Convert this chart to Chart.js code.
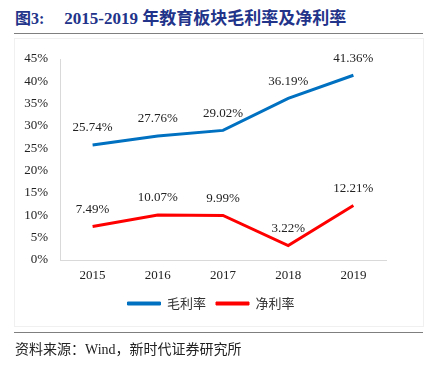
<!DOCTYPE html>
<html>
<head>
<meta charset="utf-8">
<script src="https://cdn.jsdelivr.net/npm/chart.js@4"></script>
<style>
    body { margin: 0; background: #fff; }
    #wrap { position: relative; width: 428px; height: 370px; overflow: hidden; }
    #chart { position: absolute; left: 0; top: 0; }
    .title {
        position: absolute; left: 15px; top: 4px; white-space: nowrap;
        font: bold 16px "Liberation Serif", "Noto Sans CJK SC", serif;
        color: #22338a;
    }
    .title span { margin-left: 20px; font-size: 17px; }
    .rule { position: absolute; left: 14px; width: 409px; height: 1px; background: #7f7f7f; }
    .frame { position: absolute; left: 14px; top: 38px; width: 408px; height: 287px; border: 1px solid #f0f0f0; }
    .source {
        position: absolute; left: 15px; top: 338px; white-space: nowrap;
        font: 14px "Liberation Serif", "Noto Sans CJK SC", serif;
        color: #222;
    }
</style>
</head>
<body>
<div id="wrap">
    <div class="title">图3:<span>2015-2019 年教育板块毛利率及净利率</span></div>
    <div class="rule" style="top:33px"></div>
    <div class="frame"></div>
    <canvas id="chart" width="428" height="370"></canvas>
    <div class="rule" style="top:332px"></div>
    <div class="source">资料来源：Wind，新时代证券研究所</div>
</div>
<script>
/* global Chart */
const years = ["2015", "2016", "2017", "2018", "2019"];
const grossMargin = [25.74, 27.76, 29.02, 36.19, 41.36];
const netMargin = [7.49, 10.07, 9.99, 3.22, 12.21];
const yTicks = [0, 5, 10, 15, 20, 25, 30, 35, 40, 45];

const serif = "'Liberation Serif', 'Times New Roman', serif";

// value labels above each point
const pointLabels = {
    id: "pointLabels",
    afterDatasetsDraw(chart)
    {
        const ctx = chart.ctx;
        ctx.save();
        ctx.font = "13px " + serif;
        ctx.fillStyle = "#222";
        ctx.textAlign = "center";
        ctx.textBaseline = "middle";
        chart.data.datasets.forEach((ds, i) => {
            chart.getDatasetMeta(i).data.forEach((pt, j) => {
                ctx.fillText(ds.data[j].toFixed(2) + "%", pt.x, pt.y - 17);
            });
        });
        ctx.restore();
    }
};

// legend sits centred on the whole frame, not just the plot
const legendShift = {
    id: "legendShift",
    afterLayout(chart)
    {
        chart.legend.left += 18;
        chart.legend.right += 18;
    }
};

new Chart(document.getElementById("chart"), {
    type: "line",
    data: {
        labels: years,
        datasets: [
            {
                label: "毛利率",
                data: grossMargin,
                borderColor: "#0070c0",
                backgroundColor: "#0070c0",
                borderWidth: 3,
                pointRadius: 0,
                tension: 0
            },
            {
                label: "净利率",
                data: netMargin,
                borderColor: "#ff0000",
                backgroundColor: "#ff0000",
                borderWidth: 3,
                pointRadius: 0,
                tension: 0
            }
        ]
    },
    options: {
        responsive: false,
        animation: false,
        layout: { padding: { left: 0, right: 42, top: 59, bottom: 50 } },
        plugins: {
            tooltip: { enabled: false },
            legend: {
                position: "bottom",
                labels: {
                    boxWidth: 33,
                    boxHeight: 3,
                    padding: 10,
                    color: "#333",
                    font: { size: 13, family: "'Noto Sans CJK SC', sans-serif" },
                    generateLabels: chart =>
                        Chart.defaults.plugins.legend.labels.generateLabels(chart).map(l => ({
                            ...l, lineWidth: 1, strokeStyle: l.fillStyle
                        }))
                }
            }
        },
        scales: {
            x: {
                offset: true,
                grid: { display: false, drawTicks: false, offset: true },
                border: { display: true, color: "#d9d9d9", width: 1 },
                ticks: { color: "#222", padding: 8, font: { size: 13, family: serif } },
                afterFit(scale) { scale.height = 27; }
            },
            y: {
                min: yTicks[0],
                max: yTicks[yTicks.length - 1],
                grid: { display: false, drawTicks: false },
                border: { display: true, color: "#d9d9d9", width: 1 },
                afterBuildTicks(scale) { scale.ticks = yTicks.map(v => ({ value: v })); },
                ticks: {
                    color: "#222",
                    padding: 12,
                    font: { size: 13, family: serif },
                    callback: v => v + "%"
                },
                afterFit(scale) { scale.width = 60; }
            }
        }
    },
    plugins: [pointLabels, legendShift]
});
</script>
</body>
</html>
